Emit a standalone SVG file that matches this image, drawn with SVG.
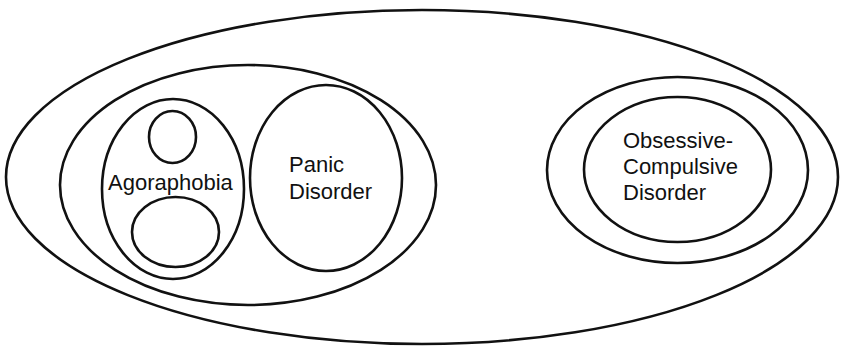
<svg xmlns="http://www.w3.org/2000/svg" width="842" height="347" viewBox="0 0 842 347">
<style>
.e{fill:none;stroke:#111;stroke-width:2.6}
.t{font-family:"Liberation Sans",Arial,sans-serif;font-size:22px;fill:#111}
</style>
<rect width="842" height="347" fill="#fff"/>
<g id="outer"><ellipse class="e" cx="422" cy="177" rx="416" ry="167"/></g>
<g id="anxiety-left"><ellipse class="e" cx="248" cy="185" rx="188" ry="120"/></g>
<g id="agoraphobia"><ellipse class="e" cx="173" cy="189" rx="71" ry="90"/>
<text class="t" x="108" y="190">Agoraphobia</text></g>
<g id="agora-top"><ellipse class="e" cx="172.5" cy="137" rx="23.5" ry="26"/></g>
<g id="agora-bottom"><ellipse class="e" cx="175.5" cy="232" rx="43.5" ry="35"/></g>
<g id="panic"><ellipse class="e" cx="326" cy="178" rx="76" ry="93"/>
<text class="t" x="289" y="172">Panic</text><text class="t" x="289" y="199">Disorder</text></g>
<g id="ocd-outer"><ellipse class="e" cx="677.5" cy="170" rx="130.5" ry="93"/></g>
<g id="ocd"><ellipse class="e" cx="677.5" cy="169.5" rx="93.5" ry="72.5"/>
<text class="t" x="623" y="148">Obsessive-</text><text class="t" x="623" y="174">Compulsive</text><text class="t" x="623" y="200">Disorder</text></g>
<g id="connectors"/>
</svg>
